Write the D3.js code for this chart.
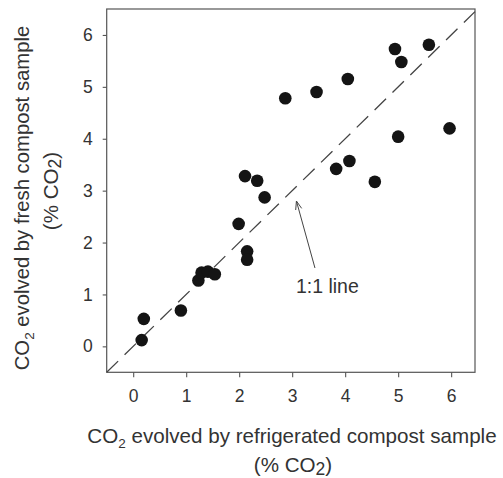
<!DOCTYPE html>
<html>
<head>
<meta charset="utf-8">
<script src="https://cdn.jsdelivr.net/npm/d3@7"></script>
<style>
  html, body { margin: 0; padding: 0; background: #fff; }
  svg { display: block; font-family: "Liberation Sans", Arial, Helvetica, sans-serif; }
</style>
</head>
<body>
<svg id="chart" width="503" height="478"></svg>
<script>
// CO2 evolved by refrigerated compost sample (% CO2) — x
const refrigerated = [4.94, 5.58, 5.06, 4.05, 3.46, 2.87, 5.97, 5.00, 4.08, 3.83, 4.56,
                      2.11, 2.34, 2.48, 1.99, 2.15, 2.15, 1.23, 1.29, 1.41, 1.54, 0.90, 0.20, 0.16];
// CO2 evolved by fresh compost sample (% CO2) — y
const fresh = [5.73, 5.81, 5.48, 5.15, 4.90, 4.78, 4.20, 4.04, 3.57, 3.42, 3.17,
               3.28, 3.19, 2.87, 2.36, 1.83, 1.67, 1.27, 1.42, 1.44, 1.39, 0.69, 0.53, 0.12];
const xTicks = [0, 1, 2, 3, 4, 5, 6];
const yTicks = [0, 1, 2, 3, 4, 5, 6];
const oneToOne = [-0.5, 6.45];
const annotation = { label: "1:1 line", tip: [3.08, 2.80], tail: [3.43, 1.51], text: [3.07, 1.02] };

const svg = d3.select("#chart");
const x = d3.scaleLinear().domain([-0.5, 6.45]).range([106.7, 475]);
const y = d3.scaleLinear().domain([-0.5, 6.5]).range([372.3, 9]);
const textColor = "#333";

// frame
svg.append("rect")
  .attr("x", x.range()[0]).attr("y", y.range()[1])
  .attr("width", x.range()[1] - x.range()[0])
  .attr("height", y.range()[0] - y.range()[1])
  .attr("fill", "none").attr("stroke", "#555").attr("stroke-width", 1.2);

// axes
const gx = svg.append("g").attr("transform", `translate(0,${y.range()[0]})`)
  .call(d3.axisBottom(x).tickValues(xTicks).tickFormat(d3.format("d")).tickSize(5).tickSizeOuter(0).tickPadding(12));
const gy = svg.append("g").attr("transform", `translate(${x.range()[0]},0)`)
  .call(d3.axisLeft(y).tickValues(yTicks).tickFormat(d3.format("d")).tickSize(4).tickSizeOuter(0).tickPadding(10));
[gx, gy].forEach(g => {
  g.select(".domain").remove();
  g.selectAll(".tick line").attr("stroke", "#555").attr("stroke-width", 1.1);
  g.selectAll(".tick text").attr("fill", textColor).style("font-size", "17.5px")
    .style("font-family", "'Liberation Sans', Arial, sans-serif");
});

// 1:1 dashed line
svg.append("line")
  .attr("x1", x(oneToOne[0])).attr("y1", y(oneToOne[0]))
  .attr("x2", x(oneToOne[1])).attr("y2", y(oneToOne[1]))
  .attr("stroke", "#444").attr("stroke-width", 1.3)
  .attr("stroke-dasharray", "16,9");

// points
svg.append("g").selectAll("circle")
  .data(refrigerated.map((v, i) => [v, fresh[i]]))
  .join("circle")
  .attr("cx", d => x(d[0])).attr("cy", d => y(d[1]))
  .attr("r", 6.3).attr("fill", "#141414");

// annotation arrow
const tip = [x(annotation.tip[0]), y(annotation.tip[1])];
const tail = [x(annotation.tail[0]), y(annotation.tail[1])];
svg.append("line")
  .attr("x1", tail[0]).attr("y1", tail[1]).attr("x2", tip[0]).attr("y2", tip[1])
  .attr("stroke", "#444").attr("stroke-width", 1);
const ang = Math.atan2(tail[1] - tip[1], tail[0] - tip[0]);
const hl = 9, ha = 0.35;
svg.append("path")
  .attr("d", `M${tip[0] + hl * Math.cos(ang - ha)},${tip[1] + hl * Math.sin(ang - ha)}L${tip[0]},${tip[1]}L${tip[0] + hl * Math.cos(ang + ha)},${tip[1] + hl * Math.sin(ang + ha)}`)
  .attr("fill", "none").attr("stroke", "#444").attr("stroke-width", 1);
svg.append("text")
  .attr("x", x(annotation.text[0])).attr("y", y(annotation.text[1]))
  .attr("fill", textColor).style("font-size", "19.5px")
  .text(annotation.label);

// x title
const xt = svg.append("text").attr("x", 292).attr("y", 443).attr("text-anchor", "middle")
  .attr("fill", textColor).style("font-size", "20.6px");
xt.append("tspan").text("CO");
xt.append("tspan").attr("dy", 5).style("font-size", "13.5px").text("2");
xt.append("tspan").attr("dy", -5).text(" evolved by refrigerated compost sample");
const xt2 = svg.append("text").attr("x", 293).attr("y", 472).attr("text-anchor", "middle")
  .attr("fill", textColor).style("font-size", "20.6px");
xt2.append("tspan").text("(% CO");
xt2.append("tspan").attr("dy", 3).style("font-size", "17.5px").text("2");
xt2.append("tspan").attr("dy", -3).text(")");

// y title
const yt = svg.append("text").attr("transform", "translate(29,198) rotate(-90)")
  .attr("text-anchor", "middle").attr("fill", textColor).style("font-size", "20.3px");
yt.append("tspan").text("CO");
yt.append("tspan").attr("dy", 5).style("font-size", "13.5px").text("2");
yt.append("tspan").attr("dy", -5).text(" evolved by fresh compost sample");
const yt2 = svg.append("text").attr("transform", "translate(58,191) rotate(-90)")
  .attr("text-anchor", "middle").attr("fill", textColor).style("font-size", "20.6px");
yt2.append("tspan").text("(% CO");
yt2.append("tspan").attr("dy", 3).style("font-size", "17.5px").text("2");
yt2.append("tspan").attr("dy", -3).text(")");
</script>
</body>
</html>
